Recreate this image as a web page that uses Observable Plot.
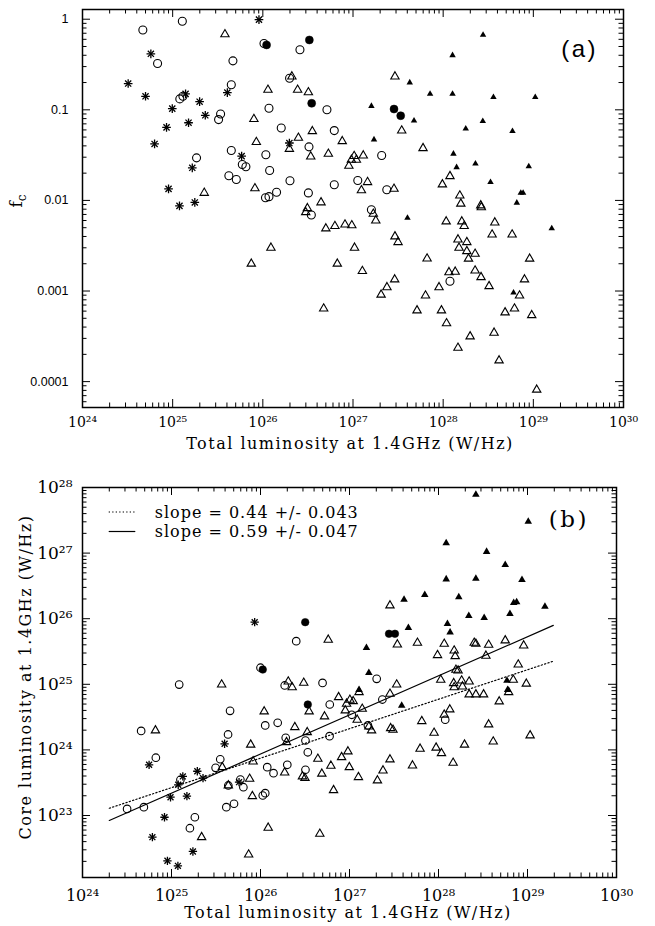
<!DOCTYPE html>
<html>
<head>
<meta charset="utf-8">
<script src="https://cdn.jsdelivr.net/npm/d3@7"></script>
<script src="https://cdn.jsdelivr.net/npm/@observablehq/plot@0.6"></script>
<style>
  html, body { margin: 0; padding: 0; background: #fff; overflow: hidden; }
  #chart { position: relative; width: 655px; height: 926px; }
  #chart svg { display: block; }
</style>
</head>
<body>
<div id="chart"></div>
<script>
// ---------- axis ticks and labels ----------
const xDomain = [1e24, 1e30];
const xTicks = [1e24, 1e25, 1e26, 1e27, 1e28, 1e29, 1e30];
const xTickLabels = ["10²⁴", "10²⁵", "10²⁶", "10²⁷", "10²⁸", "10²⁹", "10³⁰"];
const fcDomain = [5.18e-5, 1.28];
const fcTicks = [1e-4, 1e-3, 1e-2, 1e-1, 1];
const fcTickLabels = ["0.0001", "0.001", "0.01", "0.1", "1"];
const coreDomain = [1.135e22, 1e28];
const coreTicks = [1e23, 1e24, 1e25, 1e26, 1e27, 1e28];
const coreTickLabels = ["10²³", "10²⁴", "10²⁵", "10²⁶", "10²⁷", "10²⁸"];

// ---------- panel (a): [total luminosity W/Hz, f_c] ----------
const aOpenCircles = [
  [4.67e24,0.76],[1.28e25,0.95],[1.03e26,0.54],[2.58e26,0.46],[6.8e24,0.324],[4.66e25,0.347],
  [4.47e25,0.189],[1.30e25,0.141],[1.20e25,0.132],[1.98e26,0.223],[1.17e26,0.104],[5.14e26,0.100],
  [3.40e25,0.090],[3.23e25,0.078],[1.60e26,0.063],[6.2e26,0.059],[3.25e26,0.039],[4.47e25,0.0356],
  [1.08e26,0.0319],[1.84e25,0.0295],[2.08e27,0.0313],[5.92e25,0.0249],[6.49e25,0.0235],[1.19e26,0.0214],
  [4.2e25,0.0187],[5.08e25,0.0170],[2.0e26,0.0165],[6.2e26,0.0149],[1.13e27,0.0166],[2.37e27,0.0131],
  [1.07e26,0.0107],[1.17e26,0.0110],[1.42e26,0.0123],[3.2e26,0.0121],[3.45e26,0.0069],[1.6e27,0.0079],
  [1.19e28,0.00128]
];
const aFilledCircles = [[1.10e26,0.52],[3.28e26,0.59],[3.48e26,0.118],[2.85e27,0.102],[3.38e27,0.086]];
const aStars = [
  [9.06e25,0.99],[5.73e24,0.415],[3.21e24,0.195],[5.0e24,0.141],[1.39e25,0.150],[4.04e25,0.155],
  [1.99e25,0.123],[9.9e24,0.103],[2.30e25,0.087],[1.50e25,0.072],[8.55e24,0.064],[6.3e24,0.042],
  [1.97e26,0.043],[5.82e25,0.0308],[1.65e25,0.0229],[9.0e24,0.0134],[1.19e25,0.0087],[1.76e25,0.0095]
];
const aFilledTriangles = [
  [1.6e27,0.110],[1.71e27,0.047],[2.77e28,0.67],[1.27e28,0.40],[4.26e27,0.20],[7.16e27,0.150],
  [1.27e28,0.150],[3.61e28,0.138],[1.05e29,0.138],[4.75e27,0.076],[1.78e28,0.062],[2.75e28,0.075],
  [5.87e28,0.058],[1.30e28,0.0327],[1.41e28,0.0232],[2.28e28,0.0254],[8.9e28,0.0237],[3.35e28,0.0159],
  [7.26e28,0.0121],[7.7e28,0.0121],[6.56e28,0.0094],[4.02e27,0.0064],[1.60e29,0.0049],[6.03e28,0.00096]
];
const aOpenTriangles = [
  [3.8e25,0.68],[2.10e26,0.233],[1.14e26,0.166],[2.43e26,0.166],[3.2e26,0.156],[7.96e25,0.079],
  [3.54e26,0.058],[8.47e25,0.044],[1.97e26,0.037],[2.48e26,0.049],[7.6e26,0.045],[3.4e26,0.0305],
  [5.33e26,0.0327],[1.03e27,0.0308],[9.6e26,0.028],[1.09e27,0.028],[1.30e27,0.0313],[9.0e26,0.0241],
  [1.45e27,0.0159],[1.24e27,0.0129],[2.24e25,0.0121],[8.17e25,0.0136],[4.42e26,0.0095],[3.12e26,0.0082],
  [2.99e26,0.0074],[1.68e27,0.0071],[1.79e27,0.0060],[5.0e26,0.0049],[6.3e26,0.0052],[8.15e26,0.0054],
  [9.7e26,0.0053],[1.23e26,0.0030],[7.45e25,0.0020],[1.04e27,0.0030],[6.7e26,0.0020],[1.27e27,0.00166],
  [2.38e27,0.0011],[2.05e27,0.00091],[4.73e26,0.00064],[2.92e27,0.233],[3.47e27,0.059],[5.98e27,0.0377],
  [1.19e28,0.0185],[9.8e27,0.0150],[2.85e27,0.0134],[1.53e28,0.0113],[1.57e28,0.0092],[2.61e28,0.0088],
  [2.65e28,0.0084],[1.08e28,0.00585],[1.61e28,0.00585],[1.71e28,0.0052],[3.74e28,0.0057],[2.92e27,0.0040],
  [3.16e27,0.00346],[3.49e28,0.0042],[5.82e28,0.0042],[1.46e28,0.0037],[1.50e28,0.0030],[1.83e28,0.00346],
  [1.83e28,0.00275],[1.91e28,0.00227],[2.26e28,0.00257],[6.63e27,0.00228],[9.1e28,0.00227],[1.16e28,0.00161],
  [1.36e28,0.00163],[2.26e28,0.00168],[2.63e28,0.00142],[2.90e27,0.00134],[9.0e27,0.0011],[3.23e28,0.00113],
  [7.98e28,0.00134],[7.03e28,0.00089],[6.37e27,0.00089],[5.13e27,0.00061],[9.57e27,0.00061],[1.09e28,0.00044],
  [4.86e28,0.00058],[6.18e28,0.00064],[9.6e28,0.00054],[1.99e28,0.000315],[3.67e28,0.000346],[1.46e28,0.000236],
  [4.17e28,0.000171],[1.09e29,0.0000813]
];

// ---------- panel (b): [total luminosity, core luminosity] (W/Hz) ----------
const bStars = [
  [8.6e25,8.85e25],[5.6e24,5.93e23],[3.95e25,1.24e24],[1.95e25,4.73e23],[1.34e25,3.94e23],[2.26e25,3.71e23],
  [1.19e25,2.94e23],[5.74e25,3.22e23],[9.75e24,1.90e23],[1.49e25,1.97e23],[8.34e24,9.4e22],[6.1e24,4.67e22],
  [1.74e25,2.83e22],[9.0e24,2.04e22],[1.18e25,1.71e22]
];
const bFilledCircles = [[3.18e26,8.85e25],[1.06e26,1.68e25],[3.4e26,4.92e24],[2.78e27,5.89e25],[3.24e27,5.89e25]];
const bOpenCircles = [
  [2.52e26,4.54e25],[1.0e26,1.79e25],[1.22e25,9.9e24],[1.87e26,9.6e24],[4.98e26,1.05e25],[2.02e27,1.21e25],
  [6.0e26,4.92e24],[1.06e27,3.43e24],[4.55e25,3.94e24],[1.13e26,2.36e24],[1.56e26,2.59e24],[1.92e26,1.53e24],
  [3.2e26,1.39e24],[5.97e26,1.62e24],[4.56e24,1.95e24],[4.32e25,1.72e24],[3.4e26,9.2e23],[6.67e24,7.6e23],
  [3.53e25,7.2e23],[3.13e25,5.33e23],[1.19e26,5.45e23],[1.40e26,4.42e23],[2.0e26,5.93e23],[3.2e26,4.98e23],
  [1.26e25,3.5e23],[4.35e25,2.87e23],[5.94e25,3.54e23],[6.42e25,2.7e23],[1.06e26,2.02e23],[1.13e26,2.19e23],
  [4.13e25,1.34e23],[5.04e25,1.51e23],[3.17e24,1.26e23],[4.89e24,1.34e23],[1.83e25,9.4e22],[1.61e25,6.4e22],
  [2.34e27,5.86e24],[1.61e27,2.36e24],[1.19e28,2.88e24]
];
const bFilledTriangles = [
  [2.63e28,7.82e27],[1.02e29,3.03e27],[1.22e28,1.42e27],[3.47e28,1.05e27],[5.62e28,6.63e26],[1.22e28,4.0e26],
  [2.63e28,4.1e26],[8.67e28,3.92e26],[7.01e27,2.31e26],[4.1e27,1.96e26],[1.69e28,2.13e26],[7.0e28,1.75e26],
  [7.55e28,1.79e26],[1.57e29,1.53e26],[2.19e28,1.11e26],[3.26e28,1.03e26],[6.35e28,1.19e26],[4.59e27,7.27e25],
  [1.26e28,8.36e25],[1.35e28,6.22e25],[1.55e27,3.6e25],[1.65e27,1.5e25],[1.28e27,8.25e24],[5.88e28,1.14e25],
  [5.98e28,8.25e24],[3.86e27,4.75e24]
];
const bOpenTriangles = [
  [5.77e26,4.77e25],[3.66e25,9.9e24],[2.05e26,1.1e25],[2.27e26,9.0e24],[3.06e26,1.05e25],[2.85e27,1.59e26],
  [3.45e27,4.04e25],[5.8e27,4.29e25],[1.16e28,4.14e25],[2.52e28,4.29e25],[2.63e28,4.14e25],[3.66e28,4.0e25],
  [5.62e28,4.66e25],[9.06e28,3.9e25],[9.75e27,2.78e25],[1.5e28,3.27e25],[1.54e28,2.68e25],[3.41e28,2.72e25],
  [7.87e28,2.0e25],[3.39e27,9.9e24],[1.06e28,1.17e25],[1.57e28,1.66e25],[1.66e28,1.62e25],[1.48e28,1.04e25],
  [1.82e28,1.14e25],[2.21e28,1.1e25],[1.86e28,9.25e24],[1.5e28,9.0e24],[6.92e28,1.17e25],[9.7e28,1.02e25],
  [3.52e26,3.85e24],[7.54e26,6.36e24],[9.27e26,5.05e24],[1.01e27,5.8e24],[1.1e27,5.52e24],[8.97e26,3.99e24],
  [1.1e26,3.85e24],[2.43e26,2.22e24],[5.24e26,3.23e24],[3.35e26,1.86e24],[1.96e26,1.31e24],[6.6e24,1.98e24],
  [7.76e25,1.2e24],[4.41e26,7.3e23],[8.15e26,7.74e23],[9.6e26,9.46e23],[3.72e25,5.45e23],[8.26e25,6.65e23],
  [1.87e26,4.52e23],[6.18e26,5.73e23],[4.89e26,4.33e23],[9.95e26,5.45e23],[2.96e26,3.94e23],[3.16e26,3.73e23],
  [4.35e25,2.87e23],[7.55e25,3.62e23],[8.1e25,1.97e23],[6.62e26,2.43e23],[2.18e25,4.67e22],[1.22e26,6.5e22],
  [4.64e26,5.26e22],[7.36e25,2.54e22],[1.28e27,7.58e24],[2.85e27,7.16e24],[1.39e27,4.23e24],[1.22e27,2.88e24],
  [1.65e27,2.27e24],[1.77e27,1.98e24],[2.9e27,2.14e24],[3.08e27,2.02e24],[2.21e28,7.0e24],[2.63e28,7.0e24],
  [3.21e28,7.0e24],[4.81e28,5.47e24],[6.14e28,7.58e24],[6.49e27,2.74e24],[1.34e28,4.13e24],[1.16e28,3.43e24],
  [3.66e28,2.44e24],[8.92e27,1.82e24],[4.12e28,1.34e24],[1.07e29,1.66e24],[6.21e27,1.04e24],[9.4e27,1.08e24],
  [1.08e28,8.9e23],[1.96e28,1.2e24],[1.46e28,6.36e23],[5.1e27,5.78e23],[2.85e27,7.14e23],[2.38e27,4.85e23],
  [2.06e27,3.42e23],[1.26e27,3.84e23]
];

// fitted lines (end points)
const fitX = [2.0e24, 1.95e29];
const fitSolidY = [8.4e22, 7.9e25];    // slope 0.59
const fitDottedY = [1.29e23, 2.25e25]; // slope 0.44
const legendLabels = ["slope = 0.44 +/- 0.043", "slope = 0.59 +/- 0.047"];

// ---------- helpers ----------
const SERIF = "'DejaVu Serif', 'Liberation Serif', serif";
const SANS = "'Liberation Sans', Arial, sans-serif";

function minorTicks(lo, hi) {
  const out = [];
  for (let e = Math.floor(Math.log10(lo)); e < Math.ceil(Math.log10(hi)); e++) {
    for (let k = 2; k <= 9; k++) {
      const v = k * Math.pow(10, e);
      if (v > lo && v < hi) out.push(v);
    }
  }
  return out;
}

function frameTicks(xDom, yDom, xMajor, yMajor, big, small) {
  const st = {stroke: "black", strokeWidth: 1};
  const marks = [];
  for (const [vals, len] of [[xMajor, big], [minorTicks(xDom[0], xDom[1]), small]]) {
    marks.push(Plot.ruleX(vals, {x: d => d, y1: () => yDom[0], y2: () => yDom[0], insetBottom: len, ...st}));
    marks.push(Plot.ruleX(vals, {x: d => d, y1: () => yDom[1], y2: () => yDom[1], insetTop: len, ...st}));
  }
  for (const [vals, len] of [[yMajor, big], [minorTicks(yDom[0], yDom[1]), small]]) {
    marks.push(Plot.ruleY(vals, {y: d => d, x1: () => xDom[0], x2: () => xDom[0], insetLeft: len, ...st}));
    marks.push(Plot.ruleY(vals, {y: d => d, x1: () => xDom[1], x2: () => xDom[1], insetRight: len, ...st}));
  }
  return marks;
}

function symbolMarks(s) {
  const xy = {x: d => d[0], y: d => d[1]};
  return [
    Plot.dot(s.openTri, {...xy, symbol: "triangle", r: s.rTri, fill: "none", stroke: "black", strokeWidth: 1.1}),
    Plot.dot(s.filledTri, {...xy, symbol: "triangle", r: s.rTriF, fill: "black", stroke: "none"}),
    Plot.dot(s.openCirc, {...xy, symbol: "circle", r: s.rCirc, fill: "none", stroke: "black", strokeWidth: 1.1}),
    Plot.dot(s.filledCirc, {...xy, symbol: "circle", r: s.rCirc, fill: "black", stroke: "black", strokeWidth: 0.5}),
    Plot.dot(s.stars, {...xy, symbol: "plus", r: s.rStar, fill: "none", stroke: "black", strokeWidth: 1.3}),
    Plot.dot(s.stars, {...xy, symbol: "times", r: s.rStar, fill: "none", stroke: "black", strokeWidth: 1.3})
  ];
}

const labelFor = (ticks, labels) => d => labels[ticks.indexOf(d)];

// ---------- panel (a) ----------
const plotA = Plot.plot({
  width: 655, height: 463,
  marginLeft: 82, marginRight: 32, marginTop: 9, marginBottom: 56,
  x: {type: "log", domain: xDomain},
  y: {type: "log", domain: fcDomain},
  style: {fontFamily: SERIF, background: "white", color: "black", overflow: "visible"},
  marks: [
    ...frameTicks(xDomain, fcDomain, xTicks, fcTicks, 8, 4.5),
    Plot.frame({stroke: "black", strokeWidth: 1.5}),
    Plot.axisX(xTicks, {anchor: "bottom", tickSize: 0, tickPadding: 10, tickFormat: labelFor(xTicks, xTickLabels),
      fontSize: 14, fontFamily: SERIF, label: null}),
    Plot.axisY(fcTicks, {anchor: "left", tickSize: 0, tickPadding: 14, tickFormat: labelFor(fcTicks, fcTickLabels),
      fontSize: 12.5, fontFamily: SANS, label: null}),
    ...symbolMarks({openTri: aOpenTriangles, filledTri: aFilledTriangles, openCirc: aOpenCircles,
      filledCirc: aFilledCircles, stars: aStars, rTri: 3.1, rTriF: 2.4, rCirc: 4, rStar: 2.9})
  ]
});

// ---------- panel (b) ----------
const fitSolid = fitX.map((x, i) => ({x, y: fitSolidY[i]}));
const fitDotted = fitX.map((x, i) => ({x, y: fitDottedY[i]}));

const plotB = Plot.plot({
  width: 655, height: 463,
  marginLeft: 82, marginRight: 39, marginTop: 24, marginBottom: 49,
  x: {type: "log", domain: xDomain},
  y: {type: "log", domain: coreDomain},
  style: {fontFamily: SERIF, background: "white", color: "black", overflow: "visible"},
  marks: [
    ...frameTicks(xDomain, coreDomain, xTicks, coreTicks, 8, 4.5),
    Plot.frame({stroke: "black", strokeWidth: 1.5}),
    Plot.axisX(xTicks, {anchor: "bottom", tickSize: 0, tickPadding: 12, tickFormat: labelFor(xTicks, xTickLabels),
      fontSize: 16, fontFamily: SERIF, label: null}),
    Plot.axisY(coreTicks, {anchor: "left", tickSize: 0, tickPadding: 10, tickFormat: labelFor(coreTicks, coreTickLabels),
      fontSize: 17, fontFamily: SERIF, label: null}),
    Plot.line(fitDotted, {x: "x", y: "y", stroke: "black", strokeWidth: 1.2, strokeDasharray: "1.3,2.2"}),
    Plot.line(fitSolid, {x: "x", y: "y", stroke: "black", strokeWidth: 1.2}),
    ...symbolMarks({openTri: bOpenTriangles, filledTri: bFilledTriangles, openCirc: bOpenCircles,
      filledCirc: bFilledCircles, stars: bStars, rTri: 3.1, rTriF: 2.8, rCirc: 3.8, rStar: 2.8})
  ]
});

const chart = document.getElementById("chart");
chart.appendChild(plotA);
chart.appendChild(plotB);

// ---------- titles, panel tags and legend ----------
const sa = d3.select(plotA), sb = d3.select(plotB);

sa.append("text").attr("x", 350).attr("y", 449).attr("text-anchor", "middle")
  .style("font-family", SERIF).style("font-size", "16px").style("letter-spacing", "1.5px")
  .attr("fill", "black").text("Total luminosity at 1.4GHz (W/Hz)");

const fcLabel = sa.append("text").attr("transform", "translate(22,201) rotate(-90)")
  .attr("text-anchor", "middle").style("font-family", SERIF).style("font-size", "17px").attr("fill", "black");
fcLabel.append("tspan").text("f");
fcLabel.append("tspan").attr("dy", 4).style("font-size", "12px").text("c");

sa.append("text").attr("x", 598).attr("y", 48).attr("text-anchor", "end").attr("dominant-baseline", "central")
  .style("font-family", SANS).style("font-size", "24px").style("letter-spacing", "2.5px")
  .attr("fill", "black").text("(a)");

sb.append("text").attr("x", 348).attr("y", 455).attr("text-anchor", "middle")
  .style("font-family", SERIF).style("font-size", "16px").style("letter-spacing", "1.5px")
  .attr("fill", "black").text("Total luminosity at 1.4GHz (W/Hz)");

sb.append("text").attr("transform", "translate(25,214) rotate(-90)").attr("text-anchor", "middle")
  .attr("dominant-baseline", "central")
  .style("font-family", SERIF).style("font-size", "16px").style("letter-spacing", "1.5px")
  .attr("fill", "black").text("Core luminosity at 1.4GHz (W/Hz)");

sb.append("text").attr("x", 589).attr("y", 56).attr("text-anchor", "end").attr("dominant-baseline", "central")
  .style("font-family", SERIF).style("font-size", "23px").style("letter-spacing", "2.5px")
  .attr("fill", "black").text("(b)");

// legend
const legendY = [49, 68.5];
sb.append("line").attr("x1", 108.7).attr("x2", 135.3).attr("y1", legendY[0]).attr("y2", legendY[0])
  .attr("stroke", "black").attr("stroke-width", 1.2).attr("stroke-dasharray", "1.3,2.2");
sb.append("line").attr("x1", 108.7).attr("x2", 135.3).attr("y1", legendY[1]).attr("y2", legendY[1])
  .attr("stroke", "black").attr("stroke-width", 1.2);
legendLabels.forEach((t, i) => {
  sb.append("text").attr("x", 154.7).attr("y", legendY[i]).attr("text-anchor", "start")
    .attr("dominant-baseline", "central")
    .style("font-family", SERIF).style("font-size", "16px").style("letter-spacing", "1px")
    .attr("fill", "black").text(t);
});
</script>
</body>
</html>
